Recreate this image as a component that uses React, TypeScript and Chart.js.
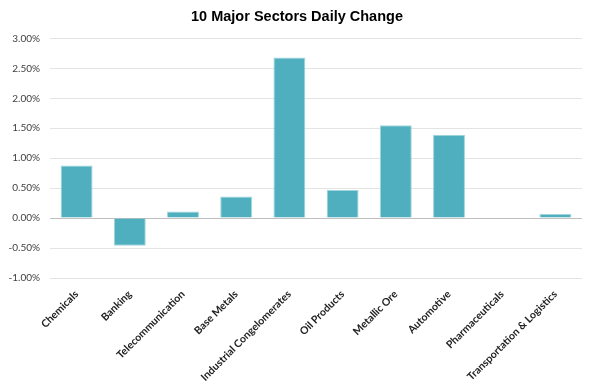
import React, { useEffect, useRef } from "react";
import { Chart, registerables } from "chart.js";

Chart.register(...registerables);

const categories = [
  "Chemicals",
  "Banking",
  "Telecommunication",
  "Base Metals",
  "Industrial Congelomerates",
  "Oil Products",
  "Metallic Ore",
  "Automotive",
  "Pharmaceuticals",
  "Transportation & Logistics",
];
const dailyChange = [0.88, -0.46, 0.11, 0.36, 2.68, 0.47, 1.55, 1.39, 0.0, 0.07];
const yMin = -1;
const yMax = 3;
const yStep = 0.5;
const title = "10 Major Sectors Daily Change";

export default function App() {
  const ref = useRef<HTMLCanvasElement>(null);
  useEffect(() => {
    document.body.style.margin = "0";
    const chart = new Chart(ref.current!, {
      type: "bar",
      data: {
        labels: categories,
        datasets: [
          {
            data: dailyChange,
            backgroundColor: "#4FAFBF",
            borderColor: "#9fd5de",
            borderWidth: 1,
            categoryPercentage: 1,
            barPercentage: 0.6,
          },
        ],
      },
      options: {
        animation: false,
        responsive: false,
        maintainAspectRatio: false,
        layout: { padding: 0 },
        plugins: {
          legend: { display: false },
          tooltip: { enabled: false },
          title: {
            display: true,
            text: title,
            color: "#000",
            font: { family: "Liberation Sans", size: 14.5, weight: "bold" },
            padding: { top: 8, bottom: 13 },
          },
        },
        scales: {
          x: {
            grid: { display: false },
            border: { display: false },
            ticks: {
              autoSkip: false,
              minRotation: 45,
              maxRotation: 45,
              color: "#222",
              padding: 2,
              font: { family: "Lato", size: 10.5, weight: "bold" },
            },
            afterFit: (s: any) => {
              s.height = 113;
            },
          },
          y: {
            min: yMin,
            max: yMax,
            border: { display: false },
            grid: {
              color: (c: any) => (c.tick && c.tick.value === 0 ? "#bfbfbf" : "#e4e4e4"),
              lineWidth: 1,
              drawTicks: false,
            },
            ticks: {
              stepSize: yStep,
              color: "#404040",
              padding: 10,
              font: { family: "Lato", size: 10 },
              callback: (v: any) => Number(v).toFixed(2) + "%",
            },
            afterFit: (s: any) => {
              s.width = 50;
            },
          },
          yRight: {
            position: "right",
            display: true,
            min: yMin,
            max: yMax,
            grid: { display: false },
            border: { display: false },
            ticks: { display: false },
            afterFit: (s: any) => {
              s.width = 12;
            },
          },
        },
      },
    });
    return () => chart.destroy();
  }, []);
  return (
    <div style={{ width: 594, height: 391 }}>
      <canvas ref={ref} width={594} height={391} />
    </div>
  );
}
